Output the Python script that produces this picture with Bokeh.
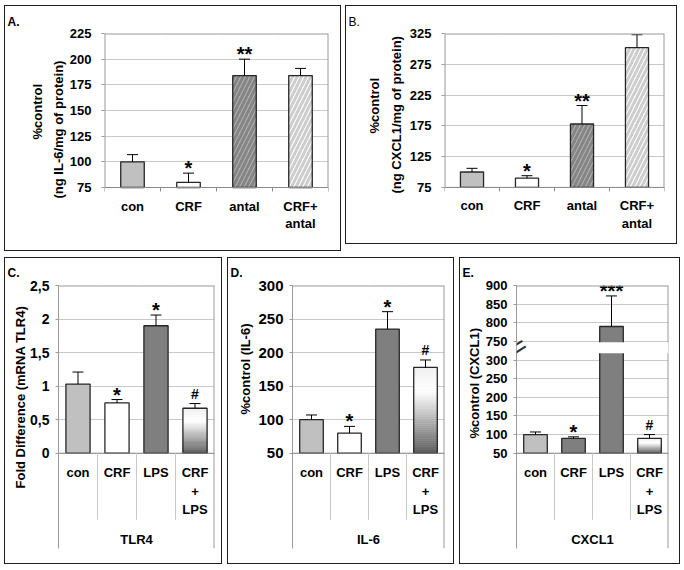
import math
from bokeh.plotting import figure
from bokeh.models import (ColumnDataSource, FactorRange, Range1d, FixedTicker,
                          Label, BoxAnnotation, Title)
from bokeh.transform import dodge
from bokeh.layouts import row, column
from bokeh.embed import file_html
from bokeh.resources import INLINE
from bokeh.core.properties import value

FONT = "Liberation Sans"

# ---------------- data ----------------
top_cats = ["con", "CRF", "antal", "CRF+antal"]
top_labels = ["con", "CRF", "antal", "CRF+\nantal"]

a_vals = [100, 80, 184, 184]
a_errs = [7, 9, 16, 7]
a_sig = ["", "*", "**", ""]
a_ticks = [75, 100, 125, 150, 175, 200, 225]

b_vals = [100, 90, 178, 302]
b_errs = [6, 4, 30, 21]
b_sig = ["", "*", "**", ""]
b_ticks = [75, 125, 175, 225, 275, 325]

bot_cats = ["con", "CRF", "LPS", "CRF+LPS"]
bot_labels = ["con", "CRF", "LPS", "CRF\n+\nLPS"]

c_vals = [1.03, 0.75, 1.90, 0.67]
c_errs = [0.18, 0.05, 0.16, 0.07]
c_sig = ["", "*", "*", "#"]
c_ticks = [0, 0.5, 1, 1.5, 2, 2.5]
c_tick_labels = ["0", "0,5", "1", "1,5", "2", "2,5"]

d_vals = [100, 80, 235, 178]
d_errs = [7, 10, 26, 11]
d_sig = ["", "*", "*", "#"]
d_ticks = [50, 100, 150, 200, 250, 300]
d_tick_labels = ["50", "100", "150", "200", "250", "300"]

e_vals = [100, 90, 790, 90]
e_errs = [7, 4, 82, 10]
e_sig = ["", "*", "***", "#"]
e_ticks = [50, 100, 150, 200, 250, 300, 750, 800, 850, 900]
e_tick_labels = ["50", "100", "150", "200", "250", "300", "750", "800", "850", "900"]
E_BREAK_LO, E_BREAK_HI, E_GAP = 300, 750, 50

# ---------------- layout geometry (reference pixels) ----------------
GEOM = {
    "A": dict(box=(4, 5, 341, 251), frame=(103, 32, 327, 238), axis=186),
    "B": dict(box=(345, 4, 677, 243), frame=(443, 29, 663, 232), axis=186),
    "C": dict(box=(4, 257, 222, 564), frame=(57, 282, 213, 547), axis=451),
    "D": dict(box=(228, 257, 455, 564), frame=(292, 282, 444, 547), axis=451),
    "E": dict(box=(459, 257, 680, 564), frame=(515, 282, 667, 547), axis=451),
}
SEP_PX = 67        # short separators below the category axis
GROUP_PX = 86      # group label distance below axis
TICK_PX = 4        # small x tick marks below axis (top panels)

BAR_LINE = "#262626"
GRID = "#c9c9c9"
BORDER = "#9a9a9a"


def hexlerp(c1, c2, t):
    a = [int(c1[i:i + 2], 16) for i in (1, 3, 5)]
    b = [int(c2[i:i + 2], 16) for i in (1, 3, 5)]
    return "#%02x%02x%02x" % tuple(int(round(x + (y - x) * t)) for x, y in zip(a, b))


def grad_color(t):  # t = 0 at top of bar, 1 at bottom
    if t < 0.28:
        return hexlerp("#f0f0f0", "#ffffff", t / 0.28)
    return hexlerp("#ffffff", "#5c5c5c", (t - 0.28) / 0.72)


def panel(key, cats, labels, vals, errs, sig, ticks, tick_labels, tick_size,
          fills, ytitles, plabel, plabel_bold=True, hatches=None, hcols=None,
          group=None, disp=lambda v: v, full_edges=False, bar_w=0.42,
          label_standoff=6, title_standoff=8):
    g = GEOM[key]
    bx0, by0, bx1, by1 = g["box"]
    fx0, fy0, fx1, fy1 = g["frame"]
    ax_px = g["axis"]
    dmin, dmax = disp(ticks[0]), disp(ticks[-1])
    span = dmax - dmin
    plot_h = ax_px - fy0
    px = span / plot_h                     # data units per pixel
    y_start = dmin - (fy1 - ax_px) * px

    p = figure(width=bx1 - bx0, height=by1 - by0,
               x_range=FactorRange(factors=cats), y_range=Range1d(y_start, dmax),
               output_backend="svg", toolbar_location=None, x_axis_location=None,
               min_border_left=fx0 - bx0, min_border_right=bx1 - fx1,
               min_border_top=fy0 - by0, min_border_bottom=by1 - fy1,
               styles={"border": "1px solid #1e1e1e", "box-sizing": "border-box"})
    p.xgrid.visible = False
    p.ygrid.grid_line_color = GRID
    p.outline_line_color = None
    p.background_fill_color = "white"
    p.border_fill_color = "white"

    # y axis (real axis; broken-axis labels via overrides)
    dticks = [disp(t) for t in ticks]
    ya = p.yaxis[0]
    ya.ticker = FixedTicker(ticks=dticks, minor_ticks=[])
    ya.major_label_overrides = {t: l for t, l in zip(dticks, tick_labels)}
    ya.major_label_text_font = FONT
    ya.major_label_text_font_style = "bold"
    ya.major_label_text_font_size = tick_size
    ya.major_label_text_color = "black"
    ya.axis_line_color = BORDER if full_edges else None
    ya.major_tick_line_color = BORDER
    ya.major_tick_out = 3
    ya.major_tick_in = 0
    ya.minor_tick_line_color = None
    ya.major_label_standoff = label_standoff
    ya.axis_label_standoff = 0

    # y axis titles (Title annotations on the left side), inner one first
    for text, bottom_end, standoff, size in ytitles:
        p.add_layout(Title(text=text, align="left", offset=fy1 - bottom_end,
                           standoff=standoff, text_font=FONT, text_font_size=size,
                           text_font_style="bold", text_color="black"), "left")
    # panel letter
    p.title.text = plabel
    p.title.align = "left"
    p.title.offset = -(fx0 - bx0 - 2)
    p.title.standoff = title_standoff
    p.title.text_font = FONT
    p.title.text_font_size = "12px"
    p.title.text_font_style = "bold" if plabel_bold else "normal"
    p.title.text_color = "black"

    tops = [disp(v) for v in vals]
    err_tops = [disp(v + e) for v, e in zip(vals, errs)]

    # gradient bars (stacked thin slices)
    N = 40
    for c, f, t in zip(cats, fills, tops):
        if f != "gradient":
            continue
        bots = [dmin + (t - dmin) * k / N for k in range(N)]
        tps = [dmin + (t - dmin) * (k + 1) / N for k in range(N)]
        cols = [grad_color(1 - (k + 0.5) / N) for k in range(N)]
        p.vbar(x=[c] * N, bottom=bots, top=tps, width=bar_w, fill_color=cols,
               line_color=cols, line_width=0.6)
    if hatches is None:
        hatches = [" "] * len(cats)
        hcols = ["#ffffff"] * len(cats)
    src = ColumnDataSource(dict(
        x=cats, top=tops,
        fill=["#ffffff" if f == "gradient" else f for f in fills],
        fa=[0.0 if f == "gradient" else 1.0 for f in fills],
        hp=hatches, hc=hcols))
    p.vbar(x="x", top="top", bottom=dmin, width=bar_w, source=src,
           fill_color="fill", fill_alpha="fa", hatch_pattern="hp", hatch_color="hc",
           hatch_scale=9, hatch_weight=3, line_color=BAR_LINE, line_width=1.3)

    # error bars (upper only) and significance marks
    p.segment(x0=cats, y0=tops, x1=cats, y1=err_tops, line_color="black", line_width=1)
    p.scatter(x=cats, y=err_tops, marker="dash", size=11, line_color="black", line_width=1)
    fs = ["14px" if s == "#" else "20px" for s in sig]
    off = [-10 if s == "#" else -5 for s in sig]
    ssrc = ColumnDataSource(dict(x=cats, y=err_tops, t=sig, fs=fs, off=off))
    p.text(x="x", y="y", text="t", source=ssrc, text_font=value(FONT),
           text_font_style="bold", text_font_size="fs", text_align="center",
           text_baseline="alphabetic", y_offset="off", text_color="black")

    # plot-area frame lines, axis line, separators / tick marks
    all_src = ColumnDataSource(dict(x=cats))
    last_src = ColumnDataSource(dict(x=[cats[-1]]))
    first_src = ColumnDataSource(dict(x=[cats[0]]))
    L = dodge("x", -0.5, range=p.x_range)
    R = dodge("x", 0.5, range=p.x_range)
    p.segment(x0=L, y0=dmax, x1=R, y1=dmax, source=all_src, line_color=BORDER, line_width=2)
    p.segment(x0=L, y0=dmin, x1=R, y1=dmin, source=all_src, line_color="#8a8a8a", line_width=1)
    edge_bottom = y_start if full_edges else dmin
    p.segment(x0=R, y0=dmax, x1=R, y1=edge_bottom, source=last_src,
              line_color=BORDER, line_width=2)
    if not full_edges:
        p.segment(x0=L, y0=dmax, x1=L, y1=dmin, source=first_src,
                  line_color=BORDER, line_width=2)
    if group is not None:
        sep_src = ColumnDataSource(dict(x=cats[1:]))
        p.segment(x0=L, y0=dmin, x1=L, y1=dmin - SEP_PX * px,
                  source=sep_src, line_color="#c8c8c8", line_width=1)
    else:
        p.segment(x0=L, y0=dmin, x1=L, y1=dmin - TICK_PX * px,
                  source=all_src, line_color="#8a8a8a", line_width=1)
        p.segment(x0=R, y0=dmin, x1=R, y1=dmin - TICK_PX * px,
                  source=last_src, line_color="#8a8a8a", line_width=1)

    # category labels and group label
    p.text(x=cats, y=[dmin] * len(cats), text=labels, y_offset=12 if group else 11,
           text_font=value(FONT), text_font_style="bold", text_font_size="13px",
           text_align="center", text_baseline="top",
           text_line_height=1.22 if group else 1.18, text_color="black")
    if group is not None:
        gsrc = ColumnDataSource(dict(x=[cats[1]], y=[dmin], t=[group]))
        p.text(x=R, y="y", text="t", source=gsrc,
               y_offset=GROUP_PX, text_font=value(FONT), text_font_style="bold",
               text_font_size="13px", text_align="center", text_baseline="middle",
               text_color="black")
    return p


TOP_FILLS = ["#c0c0c0", "#ffffff", "#b0b0b0", "#ffffff"]
TOP_HATCH = [" ", " ", "/", "/"]
TOP_HCOLS = ["#c0c0c0", "#ffffff", "#858585", "#cdcdcd"]

pA = panel("A", top_cats, top_labels, a_vals, a_errs, a_sig, a_ticks,
           [str(t) for t in a_ticks], "13px", TOP_FILLS,
           [("(ng IL-6/mg of protein)", 197, 2, "13px"), ("%control", 138, 5, "13px")],
           "A.", True, hatches=TOP_HATCH, hcols=TOP_HCOLS,
           label_standoff=10, title_standoff=10)
pB = panel("B", top_cats, top_labels, b_vals, b_errs, b_sig, b_ticks,
           [str(t) for t in b_ticks], "13px", TOP_FILLS,
           [("(ng CXCL1/mg of protein)", 193, 5, "13px"), ("%control", 133, 6, "13px")],
           "B.", False, hatches=TOP_HATCH, hcols=TOP_HCOLS,
           label_standoff=10, title_standoff=9)

pC = panel("C", bot_cats, bot_labels, c_vals, c_errs, c_sig, c_ticks, c_tick_labels,
           "14px", ["#c0c0c0", "#ffffff", "#7f7f7f", "gradient"],
           [("Fold Difference (mRNA TLR4)", 487, 0, "13px")], "C.",
           group="TLR4", full_edges=True, bar_w=0.62, title_standoff=11)
pD = panel("D", bot_cats, bot_labels, d_vals, d_errs, d_sig, d_ticks, d_tick_labels,
           "15px", ["#c0c0c0", "#ffffff", "#7f7f7f", "gradient"],
           [("%control (IL-6)", 413, 6, "13px")], "D.",
           group="IL-6", full_edges=True, bar_w=0.62, title_standoff=11)


def e_disp(v):
    if v <= E_BREAK_LO:
        return v
    return E_BREAK_LO + E_GAP + (v - E_BREAK_HI)


pE = panel("E", bot_cats, bot_labels, e_vals, e_errs, e_sig, e_ticks, e_tick_labels,
           "13px", ["#c0c0c0", "#7f7f7f", "#7f7f7f", "gradient"],
           [("%control (CXCL1)", 437, 2, "13px")], "E.",
           group="CXCL1", disp=e_disp, full_edges=True, bar_w=0.62, title_standoff=11)
# white band of the broken axis and the break marks
pE.add_layout(BoxAnnotation(bottom=E_BREAK_LO + 0.36 * E_GAP, top=E_BREAK_LO + 0.96 * E_GAP,
                            fill_color="white", fill_alpha=1.0, line_color=None))
gE = GEOM["E"]
pE.add_layout(Label(x=2, y=gE["frame"][3] - 345, x_units="screen", y_units="screen",
                    text="=", angle=math.radians(32), text_align="center",
                    text_baseline="middle", text_font=FONT, text_font_size="26px",
                    text_color="#333333"))

layout = column(row(pA, pB, spacing=4), row(pC, pD, pE, spacing=5), spacing=6,
                styles={"margin-left": "4px", "margin-top": "5px"})

open("out.html", "w").write(file_html(layout, INLINE))
